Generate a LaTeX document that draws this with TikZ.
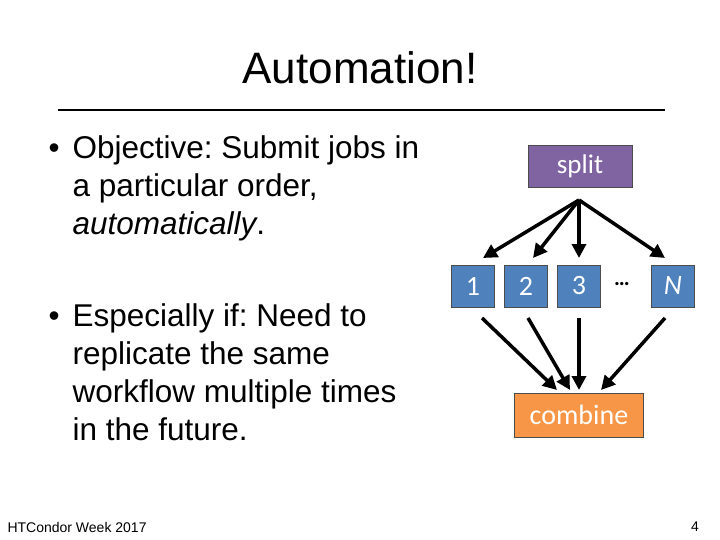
\documentclass[tikz,border=0pt]{standalone}
\usepackage{fontspec}
\setmainfont{Liberation Sans}
\newfontfamily\calibri{Carlito}
\usetikzlibrary{arrows.meta,positioning}
\frenchspacing
\definecolor{splitpurple}{RGB}{128,100,162}
\definecolor{jobblue}{RGB}{79,129,189}
\definecolor{combineorange}{RGB}{247,150,70}
\newcommand{\bul}{\makebox[24pt][l]{\textbullet}}
\newcommand{\ind}{\hspace*{24pt}}
\tikzset{
    job/.style={draw=black!70, fill=jobblue, text=white, minimum width=43pt, minimum height=42pt, font=\calibri\fontsize{28}{30}\selectfont, inner sep=0pt},
    flow/.style={-{Triangle[length=14pt,width=14pt]}, line width=3.5pt},
}
\begin{document}
\begin{tikzpicture}[x=1pt,y=-1pt]
    \useasboundingbox (0,0) rectangle (720,540);
    % title
    \node (title) at (360,68) {\fontsize{44}{48}\selectfont Automation!};
    \draw[line width=2.5pt] (58,110) -- (665,110);
    % bullets
    \node[anchor=north west, align=left, font=\fontsize{31.5}{38}\selectfont] (obj) at (45,132)
        {\bul Objective: Submit jobs in\\\ind a particular order,\\\ind \textit{automatically}.};
    \node[anchor=north west, align=left, font=\fontsize{31.5}{38}\selectfont] (esp) at (45,300)
        {\bul Especially if: Need to\\\ind replicate the same\\\ind workflow multiple times\\\ind in the future.};
    % diagram
    \node[draw=black!70, fill=splitpurple, text=white, minimum width=104pt, minimum height=42pt, font=\calibri\fontsize{27}{30}\selectfont] (split) at (580,166) {split};
    \node[job] (j1) at (473,286) {1};
    \node[job] (j2) at (526,286) {2};
    \node[job] (j3) at (579,286) {3};
    \node (dots) at (622,286) {\calibri\fontsize{22}{24}\selectfont\raisebox{5pt}{\textbf{\dots}}};
    \node[job] (jn) at (673,286) {\textit{N}};
    \node[draw=black!70, fill=combineorange, text=white, minimum width=129pt, minimum height=44pt, font=\calibri\fontsize{28}{30}\selectfont] (combine) at (579,415) {combine};
    \coordinate (fork) at (579,200);
    \draw[flow] (fork) -- (483,258);
    \draw[flow] (fork) -- (533,258);
    \draw[flow] (fork) -- (579,258);
    \draw[flow] (fork) -- (665,258);
    \draw[flow] (482,318) -- (557,390);
    \draw[flow] (528,318) -- (570,390);
    \draw[flow] (579,318) -- (579,390);
    \draw[flow] (665,318) -- (601,390);
    % footer
    \node[anchor=west, font=\fontsize{14}{16}\selectfont] (footer) at (4,527) {HTCondor Week 2017};
    \node[font=\fontsize{14}{16}\selectfont] (page) at (695,527) {4};
\end{tikzpicture}
\end{document}
